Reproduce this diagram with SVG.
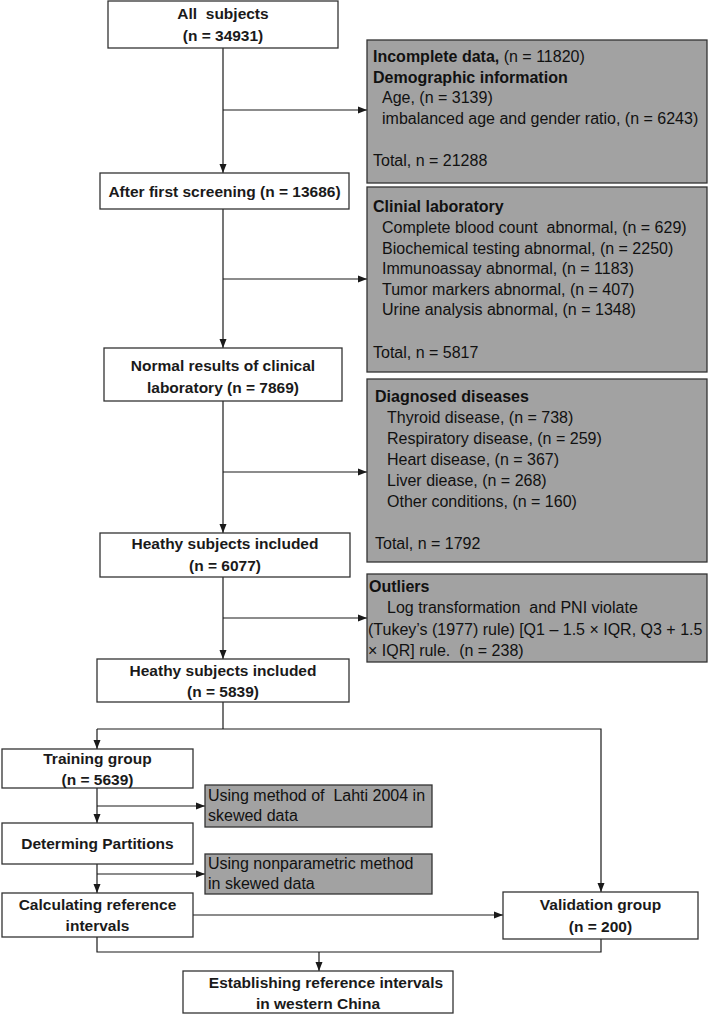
<svg xmlns="http://www.w3.org/2000/svg" width="709" height="1014" viewBox="0 0 709 1014">
<style>
.wb{fill:#ffffff;stroke:#333333;stroke-width:1.3}
.gb{fill:#a2a2a2;stroke:#333333;stroke-width:1.3}
.t{font-family:"Liberation Sans",Arial,sans-serif;font-size:15.5px;font-weight:bold;fill:#1a1a1a;text-anchor:middle;white-space:pre}
.g{font-family:"Liberation Sans",Arial,sans-serif;font-size:16px;fill:#111111;white-space:pre}
.gh{font-weight:bold}
.c{fill:none;stroke:#1a1a1a;stroke-width:1.2}
</style>
<defs>
<marker id="ar" markerUnits="userSpaceOnUse" markerWidth="9" markerHeight="9" viewBox="0 0 9 9" refX="9" refY="4.5" orient="auto">
<path d="M0,1 L9,4.5 L0,8 Z" fill="#1a1a1a"/>
</marker>
</defs>
<g id="connectors">
<line class="c" x1="223" y1="48" x2="223" y2="173" marker-end="url(#ar)"/>
<line class="c" x1="223" y1="110" x2="367" y2="110" marker-end="url(#ar)"/>
<line class="c" x1="223" y1="209" x2="223" y2="348" marker-end="url(#ar)"/>
<line class="c" x1="223" y1="279" x2="367" y2="279" marker-end="url(#ar)"/>
<line class="c" x1="223" y1="401" x2="223" y2="533" marker-end="url(#ar)"/>
<line class="c" x1="223" y1="472" x2="367" y2="472" marker-end="url(#ar)"/>
<line class="c" x1="223" y1="577" x2="223" y2="659" marker-end="url(#ar)"/>
<line class="c" x1="223" y1="618" x2="367" y2="618" marker-end="url(#ar)"/>
<line class="c" x1="223" y1="702" x2="223" y2="729"/>
<polyline class="c" points="97,729 601,729 601,892" marker-end="url(#ar)"/>
<line class="c" x1="97" y1="729" x2="97" y2="749" marker-end="url(#ar)"/>
<line class="c" x1="97" y1="788" x2="97" y2="823" marker-end="url(#ar)"/>
<line class="c" x1="97" y1="806" x2="205" y2="806" marker-end="url(#ar)"/>
<line class="c" x1="97" y1="864" x2="97" y2="893" marker-end="url(#ar)"/>
<line class="c" x1="97" y1="874" x2="205" y2="874" marker-end="url(#ar)"/>
<line class="c" x1="193" y1="915" x2="503" y2="915" marker-end="url(#ar)"/>
<polyline class="c" points="97,937 97,952 601,952 601,939"/>
<line class="c" x1="319" y1="952" x2="319" y2="971" marker-end="url(#ar)"/>
</g>
<g id="n-all">
<rect class="wb" x="108" y="1" width="230" height="47"/>
<text class="t" x="223" y="19">All  subjects</text>
<text class="t" x="223" y="41">(n = 34931)</text>
</g>
<g id="n-excl1">
<rect class="gb" x="367" y="40" width="340" height="143"/>
<text class="g" x="373" y="62"><tspan class="gh">Incomplete data,</tspan> (n = 11820)</text>
<text class="g gh" x="373" y="83">Demographic information</text>
<text class="g" x="382" y="103">Age, (n = 3139)</text>
<text class="g" x="382" y="124">imbalanced age and gender ratio, (n = 6243)</text>
<text class="g" x="373" y="166">Total, n = 21288</text>
</g>
<g id="n-first">
<rect class="wb" x="100" y="173" width="249" height="36"/>
<text class="t" x="224.5" y="197">After first screening (n = 13686)</text>
</g>
<g id="n-excl2">
<rect class="gb" x="367" y="187" width="340" height="185"/>
<text class="g gh" x="373" y="212">Clinial laboratory</text>
<text class="g" x="382" y="233">Complete blood count  abnormal, (n = 629)</text>
<text class="g" x="382" y="254">Biochemical testing abnormal, (n = 2250)</text>
<text class="g" x="382" y="274">Immunoassay abnormal, (n = 1183)</text>
<text class="g" x="382" y="295">Tumor markers abnormal, (n = 407)</text>
<text class="g" x="382" y="315">Urine analysis abnormal, (n = 1348)</text>
<text class="g" x="373" y="358">Total, n = 5817</text>
</g>
<g id="n-normal">
<rect class="wb" x="104" y="348" width="238" height="53"/>
<text class="t" x="223" y="371">Normal results of clinical</text>
<text class="t" x="223" y="393">laboratory (n = 7869)</text>
</g>
<g id="n-excl3">
<rect class="gb" x="367" y="379" width="340" height="183"/>
<text class="g gh" x="375" y="402">Diagnosed diseases</text>
<text class="g" x="387" y="423">Thyroid disease, (n = 738)</text>
<text class="g" x="387" y="444">Respiratory disease, (n = 259)</text>
<text class="g" x="387" y="465">Heart disease, (n = 367)</text>
<text class="g" x="387" y="486">Liver diease, (n = 268)</text>
<text class="g" x="387" y="507">Other conditions, (n = 160)</text>
<text class="g" x="375" y="549">Total, n = 1792</text>
</g>
<g id="n-healthy1">
<rect class="wb" x="100" y="533" width="250" height="44"/>
<text class="t" x="225" y="549">Heathy subjects included</text>
<text class="t" x="225" y="571">(n = 6077)</text>
</g>
<g id="n-outliers">
<rect class="gb" x="367" y="574" width="340" height="88"/>
<text class="g gh" x="369" y="592">Outliers</text>
<text class="g" x="387" y="613">Log transformation  and PNI violate</text>
<text class="g" x="368" y="635">(Tukey’s (1977) rule) [Q1 – 1.5 × IQR, Q3 + 1.5</text>
<text class="g" x="368" y="656">× IQR] rule.  (n = 238)</text>
</g>
<g id="n-healthy2">
<rect class="wb" x="97" y="659" width="252" height="43"/>
<text class="t" x="223" y="676">Heathy subjects included</text>
<text class="t" x="223" y="697">(n = 5839)</text>
</g>
<g id="n-training">
<rect class="wb" x="2" y="749" width="191" height="39"/>
<text class="t" x="97.5" y="764">Training group</text>
<text class="t" x="97.5" y="785">(n = 5639)</text>
</g>
<g id="n-lahti">
<rect class="gb" x="205" y="785" width="227" height="42"/>
<text class="g" x="208" y="801">Using method of  Lahti 2004 in</text>
<text class="g" x="208" y="821">skewed data</text>
</g>
<g id="n-partitions">
<rect class="wb" x="2" y="823" width="191" height="41"/>
<text class="t" x="97.5" y="849">Determing Partitions</text>
</g>
<g id="n-nonparam">
<rect class="gb" x="205" y="854" width="227" height="40"/>
<text class="g" x="208" y="869">Using nonparametric method</text>
<text class="g" x="208" y="889">in skewed data</text>
</g>
<g id="n-calc">
<rect class="wb" x="2" y="893" width="191" height="44"/>
<text class="t" x="97.5" y="910">Calculating reference</text>
<text class="t" x="97.5" y="931">intervals</text>
</g>
<g id="n-validation">
<rect class="wb" x="503" y="892" width="195" height="47"/>
<text class="t" x="600.5" y="910">Validation group</text>
<text class="t" x="600.5" y="932">(n = 200)</text>
</g>
<g id="n-final">
<rect class="wb" x="183" y="971" width="270" height="42"/>
<text class="t" x="326" y="988">Establishing reference intervals</text>
<text class="t" x="318" y="1009">in western China</text>
</g>
</svg>
